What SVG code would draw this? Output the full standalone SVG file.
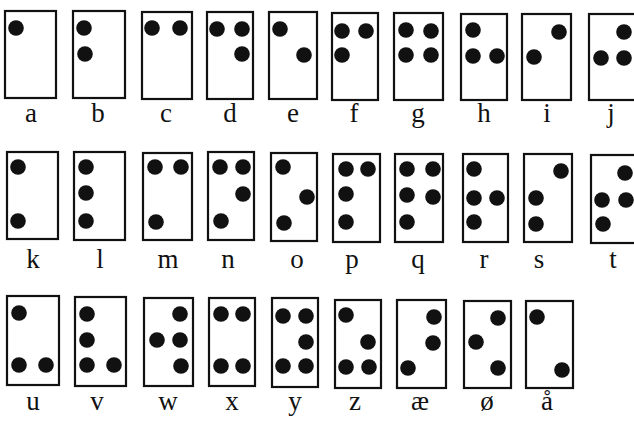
<svg xmlns="http://www.w3.org/2000/svg" width="634" height="421" viewBox="0 0 634 421">
<style>
.cell{fill:#fff;stroke:#111;stroke-width:2.2}
.d{fill:#111}
.lbl{font-family:"Liberation Serif","Times New Roman",serif;font-size:27px;fill:#111;text-anchor:middle}
</style>
<rect width="634" height="421" fill="#fff"/>
<g id="a"><rect class="cell" x="5" y="11" width="51" height="87"/><circle class="d" cx="16" cy="28" r="7.8"/><text class="lbl" x="31" y="122">a</text></g>
<g id="b"><rect class="cell" x="73" y="11" width="52" height="87"/><circle class="d" cx="84" cy="28" r="7.8"/><circle class="d" cx="85" cy="54" r="7.8"/><text class="lbl" x="98" y="122">b</text></g>
<g id="c"><rect class="cell" x="142" y="12" width="50" height="87"/><circle class="d" cx="152" cy="28" r="7.8"/><circle class="d" cx="180" cy="28" r="7.8"/><text class="lbl" x="166" y="122">c</text></g>
<g id="d"><rect class="cell" x="207" y="12" width="46" height="87"/><circle class="d" cx="217" cy="29" r="7.8"/><circle class="d" cx="242" cy="29" r="7.8"/><circle class="d" cx="242" cy="54" r="7.8"/><text class="lbl" x="230" y="122">d</text></g>
<g id="e"><rect class="cell" x="269" y="12" width="48" height="87"/><circle class="d" cx="280" cy="29" r="7.8"/><circle class="d" cx="304" cy="55" r="7.8"/><text class="lbl" x="293" y="122">e</text></g>
<g id="f"><rect class="cell" x="332" y="13" width="46" height="87"/><circle class="d" cx="342" cy="31" r="7.8"/><circle class="d" cx="366" cy="31" r="7.8"/><circle class="d" cx="342" cy="55" r="7.8"/><text class="lbl" x="354" y="122">f</text></g>
<g id="g"><rect class="cell" x="394" y="13" width="49" height="87"/><circle class="d" cx="406" cy="30" r="7.8"/><circle class="d" cx="431" cy="31" r="7.8"/><circle class="d" cx="406" cy="55" r="7.8"/><circle class="d" cx="431" cy="55" r="7.8"/><text class="lbl" x="418" y="122">g</text></g>
<g id="h"><rect class="cell" x="461" y="14" width="46" height="86"/><circle class="d" cx="473" cy="30" r="7.8"/><circle class="d" cx="473" cy="56" r="7.8"/><circle class="d" cx="497" cy="56" r="7.8"/><text class="lbl" x="484" y="122">h</text></g>
<g id="i"><rect class="cell" x="522" y="14" width="49" height="86"/><circle class="d" cx="559" cy="32" r="7.8"/><circle class="d" cx="534" cy="57" r="7.8"/><text class="lbl" x="547" y="122">i</text></g>
<g id="j"><rect class="cell" x="589" y="14" width="49" height="86"/><circle class="d" cx="624" cy="32" r="7.8"/><circle class="d" cx="601" cy="58" r="7.8"/><circle class="d" cx="624" cy="58" r="7.8"/><text class="lbl" x="611" y="122">j</text></g>

<g id="k"><rect class="cell" x="7" y="152" width="51" height="87"/><circle class="d" cx="18" cy="167" r="7.8"/><circle class="d" cx="18" cy="221" r="7.8"/><text class="lbl" x="33" y="268">k</text></g>
<g id="l"><rect class="cell" x="74" y="152" width="51" height="88"/><circle class="d" cx="86" cy="167" r="7.8"/><circle class="d" cx="86" cy="193" r="7.8"/><circle class="d" cx="86" cy="221" r="7.8"/><text class="lbl" x="100" y="268">l</text></g>
<g id="m"><rect class="cell" x="143" y="153" width="49" height="87"/><circle class="d" cx="155" cy="167" r="7.8"/><circle class="d" cx="181" cy="167" r="7.8"/><circle class="d" cx="156" cy="222" r="7.8"/><text class="lbl" x="168" y="268">m</text></g>
<g id="n"><rect class="cell" x="208" y="152" width="46" height="88"/><circle class="d" cx="220" cy="167" r="7.8"/><circle class="d" cx="243" cy="167" r="7.8"/><circle class="d" cx="243" cy="194" r="7.8"/><circle class="d" cx="221" cy="221" r="7.8"/><text class="lbl" x="228" y="268">n</text></g>
<g id="o"><rect class="cell" x="271" y="153" width="46" height="88"/><circle class="d" cx="283" cy="167" r="7.8"/><circle class="d" cx="307" cy="197" r="7.8"/><circle class="d" cx="284" cy="223" r="7.8"/><text class="lbl" x="297" y="268">o</text></g>
<g id="p"><rect class="cell" x="333" y="154" width="47" height="88"/><circle class="d" cx="346" cy="169" r="7.8"/><circle class="d" cx="368" cy="169" r="7.8"/><circle class="d" cx="346" cy="194" r="7.8"/><circle class="d" cx="346" cy="222" r="7.8"/><text class="lbl" x="352" y="268">p</text></g>
<g id="q"><rect class="cell" x="395" y="154" width="48" height="88"/><circle class="d" cx="407" cy="169" r="7.8"/><circle class="d" cx="433" cy="169" r="7.8"/><circle class="d" cx="407" cy="195" r="7.8"/><circle class="d" cx="433" cy="197" r="7.8"/><circle class="d" cx="407" cy="222" r="7.8"/><text class="lbl" x="418" y="268">q</text></g>
<g id="r"><rect class="cell" x="463" y="154" width="45" height="88"/><circle class="d" cx="474" cy="169" r="7.8"/><circle class="d" cx="474" cy="198" r="7.8"/><circle class="d" cx="497" cy="198" r="7.8"/><circle class="d" cx="474" cy="222" r="7.8"/><text class="lbl" x="484" y="268">r</text></g>
<g id="s"><rect class="cell" x="524" y="154" width="48" height="88"/><circle class="d" cx="561" cy="171" r="7.8"/><circle class="d" cx="536" cy="198" r="7.8"/><circle class="d" cx="536" cy="224" r="7.8"/><text class="lbl" x="539" y="268">s</text></g>
<g id="t"><rect class="cell" x="591" y="155" width="48" height="88"/><circle class="d" cx="625" cy="173" r="7.8"/><circle class="d" cx="602" cy="200" r="7.8"/><circle class="d" cx="626" cy="200" r="7.8"/><circle class="d" cx="603" cy="224" r="7.8"/><text class="lbl" x="613" y="268">t</text></g>

<g id="u"><rect class="cell" x="7" y="296" width="52" height="89"/><circle class="d" cx="19" cy="313" r="7.8"/><circle class="d" cx="19" cy="365" r="7.8"/><circle class="d" cx="46" cy="365" r="7.8"/><text class="lbl" x="33" y="410">u</text></g>
<g id="v"><rect class="cell" x="75" y="297" width="51" height="89"/><circle class="d" cx="87" cy="314" r="7.8"/><circle class="d" cx="87" cy="340" r="7.8"/><circle class="d" cx="87" cy="365" r="7.8"/><circle class="d" cx="114" cy="365" r="7.8"/><text class="lbl" x="97" y="410">v</text></g>
<g id="w"><rect class="cell" x="144" y="298" width="49" height="88"/><circle class="d" cx="180" cy="314" r="7.8"/><circle class="d" cx="157" cy="340" r="7.8"/><circle class="d" cx="180" cy="340" r="7.8"/><circle class="d" cx="181" cy="366" r="7.8"/><text class="lbl" x="168" y="410">w</text></g>
<g id="x"><rect class="cell" x="209" y="298" width="46" height="88"/><circle class="d" cx="221" cy="314" r="7.8"/><circle class="d" cx="243" cy="314" r="7.8"/><circle class="d" cx="221" cy="366" r="7.8"/><circle class="d" cx="243" cy="366" r="7.8"/><text class="lbl" x="232" y="410">x</text></g>
<g id="y"><rect class="cell" x="272" y="298" width="46" height="89"/><circle class="d" cx="283" cy="316" r="7.8"/><circle class="d" cx="306" cy="316" r="7.8"/><circle class="d" cx="306" cy="342" r="7.8"/><circle class="d" cx="283" cy="366" r="7.8"/><circle class="d" cx="306" cy="366" r="7.8"/><text class="lbl" x="295" y="410">y</text></g>
<g id="z"><rect class="cell" x="335" y="300" width="46" height="88"/><circle class="d" cx="346" cy="315" r="7.8"/><circle class="d" cx="368" cy="342" r="7.8"/><circle class="d" cx="346" cy="367" r="7.8"/><circle class="d" cx="369" cy="367" r="7.8"/><text class="lbl" x="355" y="410">z</text></g>
<g id="ae"><rect class="cell" x="397" y="300" width="49" height="88"/><circle class="d" cx="434" cy="317" r="7.8"/><circle class="d" cx="433" cy="343" r="7.8"/><circle class="d" cx="408" cy="368" r="7.8"/><text class="lbl" x="420" y="410">æ</text></g>
<g id="oe"><rect class="cell" x="464" y="301" width="47" height="87"/><circle class="d" cx="498" cy="318" r="7.8"/><circle class="d" cx="476" cy="342" r="7.8"/><circle class="d" cx="498" cy="368" r="7.8"/><text class="lbl" x="487" y="410">ø</text></g>
<g id="aa"><rect class="cell" x="526" y="301" width="47" height="87"/><circle class="d" cx="537" cy="317" r="7.8"/><circle class="d" cx="562" cy="370" r="7.8"/><text class="lbl" x="547" y="410">å</text></g>
<g id="connectors"/>
</svg>
